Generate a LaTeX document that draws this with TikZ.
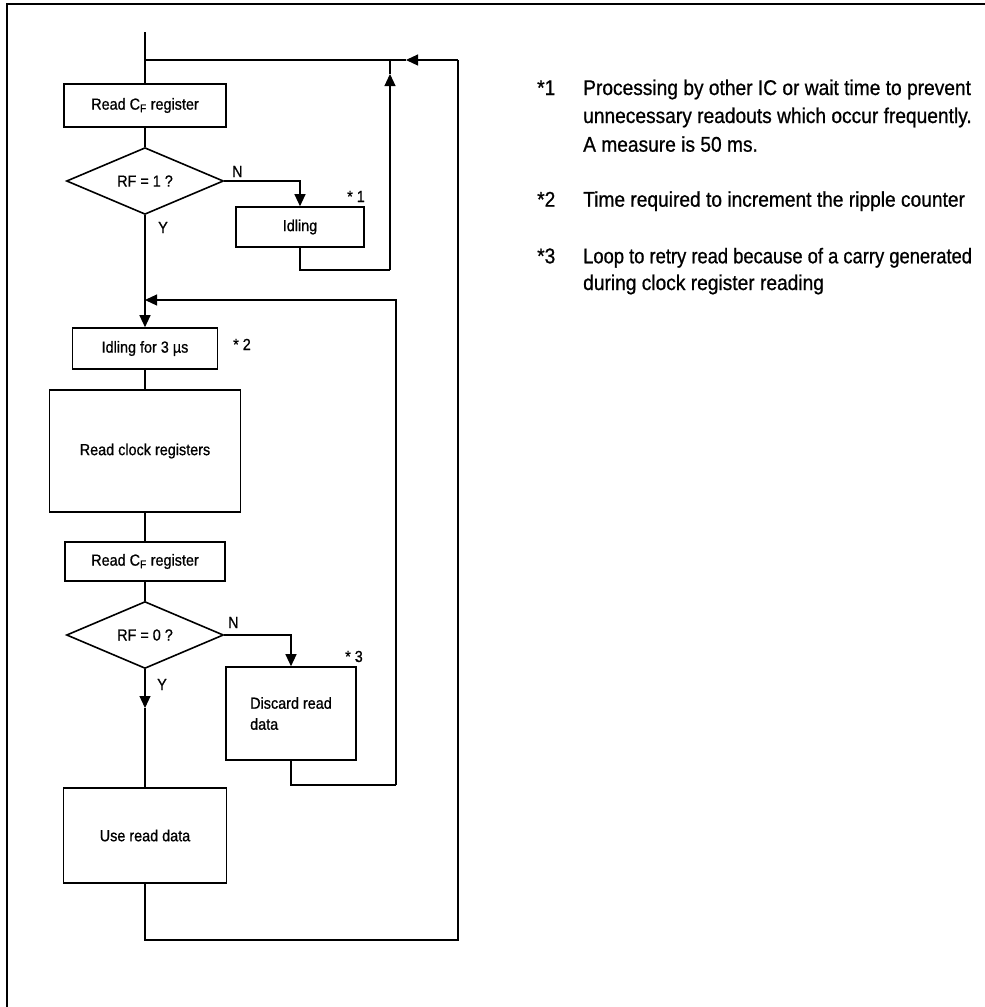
\documentclass[tikz,border=0pt]{standalone}
\usepackage{fontspec}
\setmainfont{Liberation Sans}[FakeStretch=0.9,FakeBold=0.8]
\newfontfamily\notetight{Liberation Sans}[FakeStretch=0.862,FakeBold=0.8]
\usetikzlibrary{shapes.geometric,arrows.meta}
\begin{document}
\begin{tikzpicture}[x=1pt,y=-1pt,
  boxfont/.style={font=\fontsize{16}{21}\selectfont},
  box/.style={draw,line width=1.6pt,rectangle,inner sep=0pt,boxfont},
  dia/.style={draw,line width=1.6pt,diamond,inner sep=0pt,boxfont},
  conn/.style={line width=1.2pt},
  arr/.style={conn,-{Triangle[length=12pt,width=11pt]}},
  lbl/.style={boxfont,inner sep=0pt,anchor=base west},
  note/.style={font=\fontsize{21.3}{28}\selectfont,inner sep=0pt,anchor=base west}
]
\useasboundingbox (0,0) rectangle (985,1007);
% frame
\coordinate (fa) at (985,4);
\coordinate (fb) at (7,4);
\coordinate (fc) at (7,1007);
\draw[line width=2.5pt] (fa) -- (fb) -- (fc);

% nodes
\node[box,minimum width=162pt,minimum height=43pt] (cf1) at (145,105.5) {Read C\textsubscript{F} register};
\node[dia,minimum width=157pt,minimum height=59pt] (d1) at (145,181) {RF = 1 ?};
\node[box,minimum width=128pt,minimum height=40pt] (idle) at (300,227) {Idling};
\node[box,minimum width=145pt,minimum height=41pt] (idle3) at (145,348.5) {Idling for 3 µs};
\node[box,minimum width=191pt,minimum height=122pt] (rcr) at (145,451) {Read clock registers};
\node[box,minimum width=160pt,minimum height=39pt] (cf2) at (145,561.5) {Read C\textsubscript{F} register};
\node[dia,minimum width=157pt,minimum height=60pt] (d2) at (145,635) {RF = 0 ?};
\node[box,minimum width=130pt,minimum height=93pt,align=left] (disc) at (291,713.5) {Discard read\\data};
\node[box,minimum width=163pt,minimum height=95pt] (use) at (145,835.5) {Use read data};

% coordinates
\coordinate (start) at (145,32);
\coordinate (j1) at (145,60);
\coordinate (a1) at (406,60);
\coordinate (r1) at (458,60);
\coordinate (r2) at (458,940);
\coordinate (b2) at (145,940);
\coordinate (i1) at (300,270);
\coordinate (i2) at (390,270);
\coordinate (a2) at (390,74);
\coordinate (i3) at (390,60);
\coordinate (j2) at (145,300);
\coordinate (k1) at (291,785);
\coordinate (k2) at (396,785);
\coordinate (k3) at (396,300);
\coordinate (a3) at (145,708);

% connectors
\draw[conn] (start) -- (cf1.north);
\draw[conn] (cf1.south) -- (d1.north);
\draw[arr] (d1.east) -| (idle.north);
\draw[conn] (d1.south) -- (j2);
\draw[arr] (j2) -- (idle3.north);
\draw[conn] (idle.south) -- (i1) -- (i2);
\draw[arr] (i2) -- (a2);
\draw[conn] (a2) -- (i3);
\draw[conn] (use.south) -- (b2) -- (r2) -- (r1);
\draw[arr] (r1) -- (a1);
\draw[conn] (a1) -- (j1);
\draw[conn] (disc.south) -- (k1) -- (k2);
\draw[arr] (k2) -- (k3) -- (j2);
\draw[conn] (idle3.south) -- (rcr.north);
\draw[conn] (rcr.south) -- (cf2.north);
\draw[conn] (cf2.south) -- (d2.north);
\draw[arr] (d2.east) -| (disc.north);
\draw[arr] (d2.south) -- (a3);
\draw[conn] (a3) -- (use.north);

% labels
\node[lbl] (n1) at (232,177) {N};
\node[lbl] (y1) at (158,233) {Y};
\node[lbl] (n2) at (228,628) {N};
\node[lbl] (y2) at (157,690) {Y};
\node[lbl] (s1) at (347,202) {* 1};
\node[lbl] (s2) at (233,350) {* 2};
\node[lbl] (s3) at (345,662) {* 3};

% notes
\node[note] (n1m) at (537,95) {*1};
\node[note] (n1a) at (583,95) {Processing by other IC or wait time to prevent};
\node[note] (n1b) at (583,123) {unnecessary readouts which occur frequently.};
\node[note] (n1c) at (583,151.7) {A measure is 50 ms.};
\node[note] (n2m) at (537,206.7) {*2};
\node[note] (n2a) at (583,206.7) {Time required to increment the ripple counter};
\node[note] (n3m) at (537,263.3) {*3};
\node[note] (n3a) at (583,263.3) {\notetight Loop to retry read because of a carry generated};
\node[note] (n3b) at (583,290) {during clock register reading};
\end{tikzpicture}
\end{document}
